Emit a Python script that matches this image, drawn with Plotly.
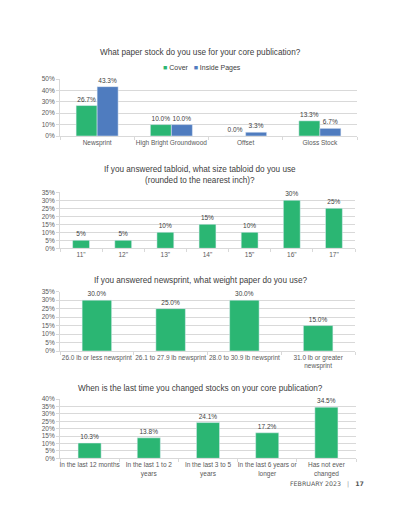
import plotly.graph_objects as go

# Chart 1
stock_cats = ["Newsprint", "High Bright Groundwood", "Offset", "Gloss Stock"]
cover_vals = [0.267, 0.100, 0.000, 0.133]
inside_vals = [0.433, 0.100, 0.033, 0.067]

# Chart 2
tabloid_cats = ['11"', '12"', '13"', '14"', '15"', '16"', '17"']
tabloid_vals = [0.05, 0.05, 0.10, 0.15, 0.10, 0.30, 0.25]

# Chart 3
weight_cats = ["26.0 lb or less newsprint", "26.1 to 27.9 lb newsprint",
               "28.0 to 30.9 lb newsprint", "31.0 lb or greater<br>newsprint"]
weight_vals = [0.30, 0.25, 0.30, 0.15]

# Chart 4
change_cats = ["In the last 12 months", "In the last 1 to 2<br>years",
               "In the last 3 to 5<br>years", "In the last 6 years or<br>longer",
               "Has not ever<br>changed"]
change_vals = [0.103, 0.138, 0.241, 0.172, 0.345]

GREEN = "#2bb673"
BLUE = "#4f7cbf"
TXT = "#404040"
TICK = "#595959"
GRID = "#d9d9d9"
FONT = "Liberation Sans, Arial, sans-serif"
W, H = 400, 511

def py(p):
    return 1 - p / H

fig = go.Figure()

lab = dict(size=6.5, color=TXT, family=FONT)
bw1 = 0.283
fig.add_trace(go.Bar(x=stock_cats, y=cover_vals, name="Cover", marker_color=GREEN,
                     width=bw1, offset=-bw1, texttemplate="%{y:.1%}", textposition="outside",
                     textfont=lab, cliponaxis=False, xaxis="x", yaxis="y"))
fig.add_trace(go.Bar(x=stock_cats, y=inside_vals, name="Inside Pages", marker_color=BLUE,
                     width=bw1, offset=0, texttemplate="%{y:.1%}", textposition="outside",
                     textfont=lab, cliponaxis=False, xaxis="x", yaxis="y"))
fig.add_trace(go.Bar(x=tabloid_cats, y=tabloid_vals, marker_color=GREEN, width=0.4, offset=-0.2,
                     texttemplate="%{y:.0%}", textposition="outside", textfont=lab,
                     cliponaxis=False, xaxis="x2", yaxis="y2"))
fig.add_trace(go.Bar(x=weight_cats, y=weight_vals, marker_color=GREEN, width=0.4, offset=-0.2,
                     texttemplate="%{y:.1%}", textposition="outside", textfont=lab,
                     cliponaxis=False, xaxis="x3", yaxis="y3"))
fig.add_trace(go.Bar(x=change_cats, y=change_vals, marker_color=GREEN, width=0.39, offset=-0.195,
                     texttemplate="%{y:.1%}", textposition="outside", textfont=lab,
                     cliponaxis=False, xaxis="x4", yaxis="y4"))

def xax(x0, x1, anchor):
    return dict(domain=[x0 / W, x1 / W], anchor=anchor, type="category",
                showline=True, linecolor=GRID, linewidth=1, ticks="outside",
                tickson="boundaries", ticklen=3, tickcolor=GRID, showgrid=False,
                tickangle=0, automargin=False,
                tickfont=dict(size=6.5, color=TICK, family=FONT), fixedrange=True)

def yax(y0, y1, anchor, rmax, dtick):
    return dict(domain=[py(y1), py(y0)], anchor=anchor, range=[0, rmax], dtick=dtick,
                tickformat=".0%", showgrid=True, gridcolor=GRID, gridwidth=1,
                showline=True, linecolor=GRID, ticks="outside", ticklen=3, tickcolor=GRID,
                zeroline=False, automargin=False,
                tickfont=dict(size=6.5, color=TICK, family=FONT), fixedrange=True)

fig.update_layout(
    width=W, height=H, margin=dict(l=0, r=0, t=0, b=0),
    paper_bgcolor="white", plot_bgcolor="white", barmode="overlay",
    font=dict(family=FONT, color=TXT), showlegend=False,
    xaxis=xax(60, 357, "y"), yaxis=yax(79, 136, "x", 0.5, 0.1),
    xaxis2=xax(60, 355, "y2"), yaxis2=yax(192.3, 248.3, "x2", 0.35, 0.05),
    xaxis3=xax(60, 355, "y3"), yaxis3=yax(291.7, 351, "x3", 0.35, 0.05),
    xaxis4=xax(60, 356, "y4"), yaxis4=yax(399, 458.3, "x4", 0.4, 0.05),
)

# Legend for chart 1
fig.add_annotation(
    text=(f"<span style='color:{GREEN}'>■</span> Cover   "
          f"<span style='color:{BLUE}'>■</span> Inside Pages"),
    x=202 / W, y=py(68.5), xref="paper", yref="paper", xanchor="center", yanchor="middle",
    showarrow=False, font=dict(size=7, color=TXT, family=FONT))

titles = [
    ("What paper stock do you use for your core publication?", 53),
    ("If you answered tabloid, what size tabloid do you use<br>(rounded to the nearest inch)?", 175),
    ("If you answered newsprint, what weight paper do you use?", 280.7),
    ("When is the last time you changed stocks on your core publication?", 388),
]
for t, y in titles:
    fig.add_annotation(text=t, x=0.5, y=py(y), xref="paper", yref="paper",
                       xanchor="center", yanchor="middle", showarrow=False,
                       font=dict(size=8.2, color=TXT, family=FONT))

fig.add_annotation(text="FEBRUARY 2023   <span style='color:#999'>|</span>   <b>17</b>",
                   x=366 / W, y=py(484), xref="paper", yref="paper", xanchor="right",
                   yanchor="middle", showarrow=False,
                   font=dict(size=6.3, color="#555555", family="DejaVu Sans, sans-serif"))

fig.write_html("out.html", config={"displayModeBar": False},
               post_script="document.body.style.margin='0';")
